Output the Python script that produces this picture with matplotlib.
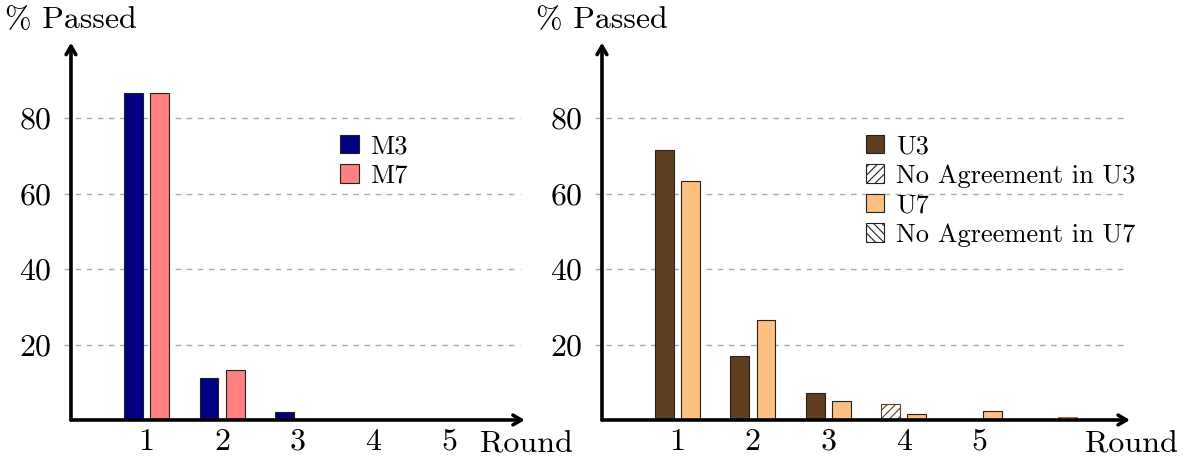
import matplotlib.pyplot as plt
import numpy as np

plt.rcParams["font.family"] = ["cmr10", "DejaVu Serif"]
plt.rcParams["axes.formatter.use_mathtext"] = True
plt.rcParams["hatch.linewidth"] = 0.8

# left panel: M3 / M7
rounds_m = [1, 2, 3, 4, 5]
m3 = [86.6, 11.0, 2.2, 0.0, 0.0]
m7 = [86.6, 13.2, 0.0, 0.0, 0.0]

# right panel: U3 / U7 plus "no agreement" bars
rounds_u = [1, 2, 3, 4, 5, 6]
u3 = [71.5, 17.0, 7.1, 0.0, 0.0, 0.0]
u3_noagree = [0.0, 0.0, 0.0, 4.2, 0.0, 0.0]
u7 = [63.3, 26.5, 4.9, 1.6, 2.4, 0.0]
u7_noagree = [0.0, 0.0, 0.0, 0.0, 0.0, 0.8]
tick_labels = ["1", "2", "3", "4", "5"]

C_M3 = "#000080"
C_M7 = "#ff8080"
C_U3 = "#603f20"
C_U7 = "#ffbf80"

fig = plt.figure(figsize=(11.85, 4.59), dpi=100)
ax1 = fig.add_axes([0.0599, 0.085, 0.383, 0.822])
ax2 = fig.add_axes([0.508, 0.085, 0.4456, 0.822])

W = 0.25
OFF = 0.175
FS = 23


def style_axis(ax, xmax):
    ax.set_xlim(0, xmax)
    ax.set_ylim(0, 100)
    for s in ax.spines.values():
        s.set_visible(False)
    ax.set_xticks([1, 2, 3, 4, 5])
    ax.set_xticklabels(tick_labels)
    ax.set_yticks([20, 40, 60, 80])
    ax.tick_params(length=0, labelsize=FS, pad=6)
    ax.tick_params(axis="y", pad=14)
    for yv in [20, 40, 60, 80]:
        ax.plot([-0.09, xmax - 0.07], [yv, yv], ls=(0, (4, 4)), color="#aaaaaa",
                lw=1.0, clip_on=False, zorder=0)
    arrow = dict(arrowstyle="->,head_length=0.6,head_width=0.35",
                 lw=2.6, color="black", shrinkA=0, shrinkB=0)
    ax.annotate("", xy=(1, 0), xytext=(0, 0), xycoords="axes fraction", arrowprops=arrow)
    ax.annotate("", xy=(0, 1), xytext=(0, 0), xycoords="axes fraction", arrowprops=arrow)
    ax.text(0.0, 1.06, "% Passed", transform=ax.transAxes, fontsize=FS,
            ha="center", va="center")
    ax.text(1.003, -0.065, "Round", transform=ax.transAxes,
            fontsize=FS, ha="center", va="center")


x = np.array(rounds_m)
ax1.bar(x - OFF, m3, W, color=C_M3, edgecolor="#222222", lw=0.8, label="M3", zorder=2)
ax1.bar(x + OFF, m7, W, color=C_M7, edgecolor="#222222", lw=0.8, label="M7", zorder=2)
style_axis(ax1, 6)
ax1.legend(loc="upper left", bbox_to_anchor=(0.57, 0.785), frameon=False, fontsize=19,
           handlelength=0.7, handleheight=0.7, handletextpad=0.45, labelspacing=0.22,
           borderaxespad=0)

xu = np.array(rounds_u)
ax2.bar(xu - OFF, u3, W, color=C_U3, edgecolor="#222222", lw=0.8, label="U3", zorder=2)
ax2.bar(xu - OFF, u3_noagree, W, color="white", edgecolor=C_U3, hatch="////", lw=0.8,
        label="No Agreement in U3", zorder=2)
ax2.bar(xu + OFF, u7, W, color=C_U7, edgecolor="#222222", lw=0.8, label="U7", zorder=2)
ax2.bar(xu + OFF, u7_noagree, W, color="white", edgecolor="#b07040", hatch="\\\\\\\\",
        lw=0.8, label="No Agreement in U7", zorder=2)
style_axis(ax2, 7)
leg = ax2.legend(loc="upper left", bbox_to_anchor=(0.48, 0.785), frameon=False, fontsize=19,
                 handlelength=0.7, handleheight=0.7, handletextpad=0.45, labelspacing=0.22,
                 borderaxespad=0)
for h in leg.legend_handles:
    h.set_edgecolor("#222222")

fig.savefig("out.png", dpi=100)
